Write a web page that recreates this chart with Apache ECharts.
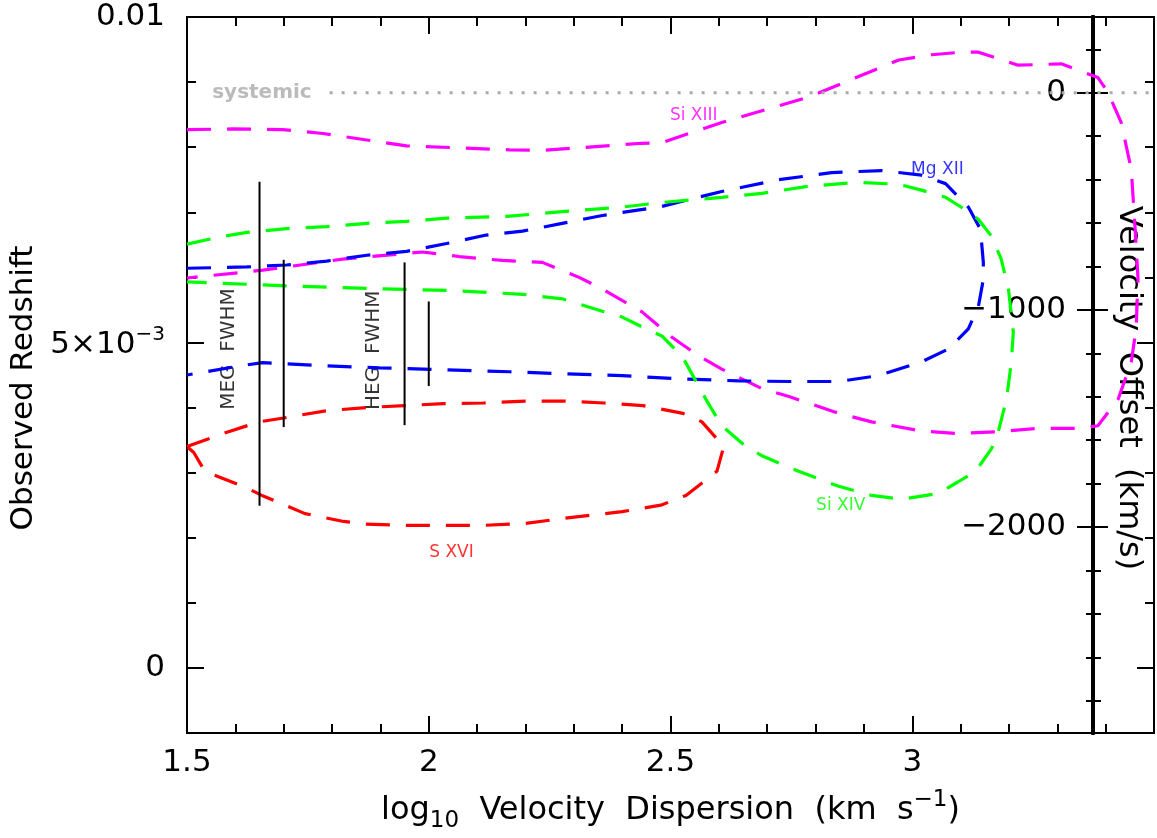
<!DOCTYPE html>
<html>
<head>
<meta charset="utf-8">
<script src="https://cdn.jsdelivr.net/npm/echarts@6/dist/echarts.min.js"></script>
<style>
  html, body { margin: 0; padding: 0; background: #fff; }
  #chart { width: 1157px; height: 838px; }
</style>
</head>
<body>
<div id="chart"></div>
<script>
// Redshift vs. velocity-dispersion confidence contours for the X-ray lines
const C_KMS = 299792.458;          // speed of light, km/s
const zSystemic = 0.008836;        // host galaxy systemic redshift
const zRange = [-0.001, 0.01];
const xRange = [1.5, 3.5];

// Contours: [log10 sigma (km/s), observed redshift]
const siXIII = [
  [1.5, 0.00827], [1.595, 0.00828], [1.698, 0.00827], [1.781, 0.00821], [1.954, 0.00802],
  [2.167, 0.00796], [2.235, 0.00795], [2.441, 0.00806], [2.482, 0.00807], [2.606, 0.00838],
  [2.786, 0.00877], [2.972, 0.00934], [3.040, 0.00942], [3.102, 0.00946], [3.137, 0.00946],
  [3.219, 0.00926], [3.308, 0.00928], [3.384, 0.00907], [3.405, 0.00884], [3.432, 0.00838],
  [3.453, 0.00766], [3.461, 0.00674], [3.467, 0.00597], [3.463, 0.00521], [3.453, 0.00470],
  [3.426, 0.00413], [3.384, 0.00372], [3.349, 0.00368], [3.261, 0.00368], [3.178, 0.00363],
  [3.095, 0.00360], [3.019, 0.00364], [2.916, 0.00378], [2.848, 0.00391], [2.745, 0.00417],
  [2.689, 0.00429], [2.606, 0.00459], [2.559, 0.00479], [2.503, 0.00508], [2.441, 0.00547],
  [2.359, 0.00582], [2.311, 0.00600], [2.235, 0.00623], [2.152, 0.00626], [2.063, 0.00632],
  [1.987, 0.00639], [1.822, 0.00628], [1.657, 0.00611], [1.5, 0.00599]
];
const mgXII = [
  [1.5, 0.00614], [1.624, 0.00616], [1.706, 0.00619], [1.789, 0.00625], [1.872, 0.00634],
  [1.954, 0.00640], [2.037, 0.00652], [2.119, 0.00665], [2.194, 0.00671], [2.276, 0.00683],
  [2.359, 0.00695], [2.482, 0.00709], [2.606, 0.00732], [2.724, 0.00750], [2.833, 0.00761],
  [2.937, 0.00764], [3.019, 0.00757], [3.069, 0.00744], [3.116, 0.00708], [3.141, 0.00674],
  [3.147, 0.00623], [3.147, 0.00597], [3.137, 0.00556], [3.116, 0.00521], [3.075, 0.00490],
  [3.019, 0.00470], [2.930, 0.00449], [2.848, 0.00440], [2.745, 0.00440], [2.641, 0.00441],
  [2.518, 0.00444], [2.400, 0.00449], [2.276, 0.00452], [2.167, 0.00455], [2.037, 0.00458],
  [1.898, 0.00461], [1.789, 0.00464], [1.657, 0.00469], [1.609, 0.00464], [1.5, 0.00450]
];
const siXIV = [
  [1.5, 0.00651], [1.574, 0.00663], [1.624, 0.00669], [1.706, 0.00675], [1.789, 0.00678],
  [1.872, 0.00683], [1.954, 0.00686], [2.037, 0.00691], [2.167, 0.00694], [2.276, 0.00701],
  [2.400, 0.00708], [2.482, 0.00715], [2.606, 0.00723], [2.689, 0.00729], [2.786, 0.00740],
  [2.889, 0.00746], [2.972, 0.00743], [3.019, 0.00734], [3.069, 0.00723], [3.116, 0.00701],
  [3.137, 0.00689], [3.164, 0.00663], [3.184, 0.00628], [3.199, 0.00582], [3.209, 0.00516],
  [3.205, 0.00470], [3.195, 0.00413], [3.178, 0.00363], [3.164, 0.00337], [3.131, 0.00302],
  [3.095, 0.00286], [3.054, 0.00268], [2.978, 0.00259], [2.916, 0.00265], [2.848, 0.00279],
  [2.765, 0.00302], [2.689, 0.00326], [2.656, 0.00340], [2.606, 0.00372], [2.573, 0.00413],
  [2.524, 0.00479], [2.482, 0.00510], [2.449, 0.00521], [2.400, 0.00539], [2.359, 0.00548],
  [2.276, 0.00567], [2.194, 0.00574], [2.037, 0.00580], [1.872, 0.00583], [1.706, 0.00587],
  [1.5, 0.00593]
];
const sXVI = [
  [1.5, 0.00340], [1.574, 0.00360], [1.649, 0.00378], [1.700, 0.00384], [1.787, 0.00395],
  [1.870, 0.00400], [1.950, 0.00403], [2.030, 0.00406], [2.113, 0.00407], [2.200, 0.00410],
  [2.282, 0.00410], [2.363, 0.00407], [2.443, 0.00403], [2.526, 0.00391], [2.565, 0.00378],
  [2.610, 0.00340], [2.596, 0.00302], [2.532, 0.00265], [2.480, 0.00250], [2.400, 0.00240],
  [2.282, 0.00230], [2.200, 0.00222], [2.113, 0.00219], [2.030, 0.00219], [1.950, 0.00219],
  [1.870, 0.00221], [1.824, 0.00225], [1.744, 0.00237], [1.655, 0.00265], [1.622, 0.00277],
  [1.537, 0.00302], [1.514, 0.00331], [1.5, 0.00340]
];

// Instrumental FWHM markers: [log10 sigma, z low, z high]
const fwhmBars = [
  [1.65, 0.00249, 0.00747],
  [1.70, 0.00370, 0.00627],
  [1.95, 0.00373, 0.00623],
  [2.00, 0.00433, 0.00563]
];

// Text annotations: [text, x, z, colour, rotate]
const annotations = [
  ['Si XIII', 2.548, 0.00849, '#ff00ff', 0],
  ['Mg XII', 3.052, 0.00766, '#0000ff', 0],
  ['Si XIV', 2.852, 0.00249, '#00ff00', 0],
  ['S XVI', 2.047, 0.00177, '#ff0000', 0],
  ['MEG  FWHM', 1.587, 0.00490, '#000000', 90],
  ['HEG  FWHM', 1.886, 0.00488, '#000000', 90]
];
const systemicStart = 1.795;
const systemicLabelX = 1.552;

// Tick positions
const xTickLabels = [1.5, 2, 2.5, 3];
const zMajorTicks = [0, 0.005, 0.01];
const vMajorTicks = [-2000, -1000, 0];
const vMinorTicks = [-2800, -2600, -2400, -2200, -2000, -1800, -1600, -1400, -1200, -1000,
  -800, -600, -400, -200, 0, 200];

const FONT = 'DejaVu Sans';
const vMin = C_KMS * (zRange[0] - zSystemic);
const vMax = C_KMS * (zRange[1] - zSystemic);

const frameLine = { show: true, onZero: false, lineStyle: { color: '#000', width: 2 } };
const noLabel = { show: false };
const noSplit = { show: false };

function zAxis(position, opts) {
  return Object.assign({
    type: 'value', position: position, min: zRange[0], max: zRange[1],
    axisLine: frameLine, splitLine: noSplit, axisLabel: noLabel
  }, opts);
}
function vAxis(opts) {
  return Object.assign({
    type: 'value', position: 'right', offset: -61, min: vMin, max: vMax,
    axisLine: { show: true, onZero: false, lineStyle: { color: '#000', width: 4 } },
    splitLine: noSplit, axisLabel: noLabel
  }, opts);
}

function zLabel(v) {
  if (v === 0) return '0';
  if (Math.abs(v - 0.005) < 1e-9) return '{n|5×10}{s|−3}';
  return '0.01';
}

const contourStyle = (color) => ({ color: color, width: 3.2, type: [24, 16] });

const series = [
  { name: 'Si XIII', data: siXIII, color: '#ff00ff' },
  { name: 'Mg XII', data: mgXII, color: '#0000ff' },
  { name: 'Si XIV', data: siXIV, color: '#00ff00' },
  { name: 'S XVI', data: sXVI, color: '#ff0000' }
].map(s => ({
  type: 'line', name: s.name, data: s.data, yAxisIndex: 0,
  symbol: 'none', smooth: false, clip: true, silent: true,
  lineStyle: contourStyle(s.color)
}));

fwhmBars.forEach(b => {
  series.push({
    type: 'line', yAxisIndex: 0, symbol: 'none', silent: true,
    data: [[b[0], b[1]], [b[0], b[2]]],
    lineStyle: { color: '#000', width: 2 }
  });
});

series.push({
  type: 'line', yAxisIndex: 0, symbol: 'none', silent: true,
  data: [[systemicStart, zSystemic], [xRange[1], zSystemic]],
  lineStyle: { color: '#aaaaaa', width: 3, type: [3, 9] }
});

series.push({
  type: 'scatter', yAxisIndex: 0, symbolSize: 0.1, silent: true,
  itemStyle: { color: 'transparent' },
  data: annotations.map(a => ({
    name: a[0], value: [a[1], a[2]],
    label: { show: true, position: 'inside', formatter: a[0], color: a[3], rotate: a[4],
      fontSize: a[4] ? 20 : 17, fontFamily: FONT }
  })).concat([{
    name: 'systemic', value: [systemicLabelX, zSystemic],
    label: { show: true, position: 'right', distance: 0, formatter: 'systemic',
      color: '#aaaaaa', fontSize: 20, fontWeight: 'bold', fontFamily: FONT }
  }])
});

const chart = echarts.init(document.getElementById('chart'), null, { renderer: 'canvas' });
chart.setOption({
  animation: false,
  backgroundColor: '#ffffff',
  grid: { left: 187, right: 1, top: 17, bottom: 102, containLabel: false },
  xAxis: [
    {
      type: 'value', position: 'bottom', min: xRange[0], max: xRange[1], interval: 0.5,
      axisLine: frameLine, splitLine: noSplit,
      axisTick: { inside: true, length: 17, lineStyle: { color: '#000', width: 2 } },
      minorTick: { show: true, splitNumber: 5, length: 9, lineStyle: { color: '#000', width: 2 } },
      axisLabel: {
        color: '#000', fontSize: 31, fontFamily: FONT, margin: 14,
        formatter: v => xTickLabels.some(t => Math.abs(t - v) < 1e-9) ? String(v) : ''
      },
      name: '{n|log}{b|10}{n|  Velocity  Dispersion  (km  s}{s|−1}{n|)}',
      nameLocation: 'middle', nameGap: 56,
      nameTextStyle: {
        color: '#000', fontFamily: FONT,
        rich: {
          n: { fontSize: 32, fontFamily: FONT, color: '#000', lineHeight: 44, verticalAlign: 'middle' },
          b: { fontSize: 23, fontFamily: FONT, color: '#000', lineHeight: 44, verticalAlign: 'bottom' },
          s: { fontSize: 23, fontFamily: FONT, color: '#000', lineHeight: 44, verticalAlign: 'top' }
        }
      }
    },
    {
      type: 'value', position: 'top', min: xRange[0], max: xRange[1], interval: 0.5,
      axisLine: frameLine, splitLine: noSplit, axisLabel: noLabel,
      axisTick: { inside: true, length: 17, lineStyle: { color: '#000', width: 2 } },
      minorTick: { show: true, splitNumber: 5, length: 9, lineStyle: { color: '#000', width: 2 } }
    }
  ],
  yAxis: [
    // left frame, minor ticks every 0.001
    zAxis('left', { interval: 0.001,
      axisTick: { inside: true, length: 9, lineStyle: { color: '#000', width: 2 } } }),
    // left frame, major ticks + labels
    zAxis('left', {
      axisTick: { inside: true, length: 17, customValues: zMajorTicks, lineStyle: { color: '#000', width: 2 } },
      axisLabel: {
        show: true, customValues: zMajorTicks, formatter: zLabel, margin: 22,
        color: '#000', fontSize: 31, fontFamily: FONT,
        rich: {
          n: { fontSize: 31, fontFamily: FONT, color: '#000', lineHeight: 36, verticalAlign: 'bottom' },
          s: { fontSize: 20, fontFamily: FONT, color: '#000', lineHeight: 36, verticalAlign: 'top' }
        }
      },
      name: 'Observed Redshift', nameLocation: 'middle', nameGap: 140, nameRotate: 90,
      nameTextStyle: { color: '#000', fontSize: 31, fontFamily: FONT, padding: [0, 26, 0, 0] }
    }),
    // right frame mirrors
    zAxis('right', { interval: 0.001,
      axisTick: { inside: true, length: 9, lineStyle: { color: '#000', width: 2 } } }),
    zAxis('right', {
      axisTick: { inside: true, length: 17, customValues: zMajorTicks, lineStyle: { color: '#000', width: 2 } }
    }),
    // velocity offset axis drawn inside the frame
    vAxis({ axisTick: { inside: false, length: 8, customValues: vMinorTicks, lineStyle: { color: '#000', width: 2 } } }),
    vAxis({ axisTick: { inside: true, length: 7, customValues: vMinorTicks, lineStyle: { color: '#000', width: 2 } } }),
    vAxis({ axisTick: { inside: false, length: 15, customValues: vMajorTicks, lineStyle: { color: '#000', width: 2 } } }),
    vAxis({
      axisTick: { inside: true, length: 16, customValues: vMajorTicks, lineStyle: { color: '#000', width: 2 } },
      axisLabel: {
        show: true, inside: true, customValues: vMajorTicks, margin: 27,
        color: '#000', fontSize: 31, fontFamily: FONT,
        formatter: v => v === 0 ? '0' : '−' + Math.abs(v)
      },
      name: 'Velocity  Offset  (km/s)', nameLocation: 'middle', nameGap: 19, nameRotate: -90,
      nameTextStyle: { color: '#000', fontSize: 32, fontFamily: FONT, padding: [0, 0, 0, 26] }
    })
  ],
  series: series
});
</script>
</body>
</html>
